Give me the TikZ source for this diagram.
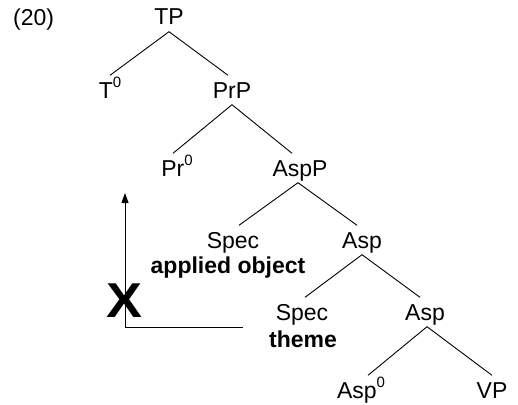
\documentclass[tikz,border=0pt]{standalone}
\usepackage{fontspec}
\setmainfont{Liberation Sans}
\usetikzlibrary{arrows.meta}
\newcommand{\zsup}[1]{\raisebox{0.45em}{\fontsize{15}{15}\selectfont #1}}
\begin{document}
\begin{tikzpicture}[x=1pt,y=-1pt,
  lab/.style={anchor=base,inner xsep=0pt,inner ysep=6.5pt,text height=16pt,text depth=0pt,font=\fontsize{23}{26}\selectfont},
  plain/.style={anchor=base,inner sep=0pt,font=\fontsize{23}{26}\selectfont},
  bold/.style={anchor=base,inner sep=0pt,font=\fontsize{23}{26}\selectfont\bfseries},
  branch/.style={line width=0.9pt},
  move/.style={line width=0.9pt}]
\useasboundingbox (0,0) rectangle (518,404);
\node[plain,anchor=base west] (num) at (13,26) {(20)};
\node[lab] (tp) at (169,25) {TP};
\node[lab] (t0) at (110,98) {T\zsup{0}};
\node[lab] (prp) at (232,98) {PrP};
\node[lab] (pr0) at (177,176) {Pr\zsup{0}};
\node[lab] (aspp) at (300,176) {AspP};
\node[lab] (spec1) at (233,248) {Spec};
\node[bold] (applied) at (228,273) {applied object};
\node[lab] (asp1) at (362,248) {Asp};
\node[lab] (spec2) at (302,320) {Spec};
\node[bold] (theme) at (303,347) {theme};
\node[lab] (asp2) at (425,320) {Asp};
\node[lab] (asp0) at (361,398) {Asp\zsup{0}};
\node[lab] (vp) at (492,398) {VP};
\draw[branch] (t0.north) -- (tp.south) -- ([xshift=-4pt]prp.north);
\draw[branch] ([xshift=-4pt]pr0.north) -- (prp.south) -- ([xshift=-8pt]aspp.north);
\draw[branch] ([xshift=6pt]spec1.north) -- ([xshift=-2pt]aspp.south) -- ([xshift=-5pt]asp1.north);
\draw[branch] ([xshift=3pt]spec2.north) -- (asp1.south) -- ([xshift=-5pt]asp2.north);
\draw[branch] ([xshift=7pt]asp0.north) -- ([xshift=2pt]asp2.south) -- (vp.north);
\coordinate (hend) at (243,327);
\coordinate (corner) at (125,327);
\coordinate (tip) at (125,193);
\draw[move,-{Triangle[length=10pt,width=7pt]}] (hend) -- (corner) -- (tip);
\node[inner sep=0pt,xscale=1.1,font=\fontsize{49}{49}\selectfont\bfseries] (cross) at (124,301) {X};
\end{tikzpicture}
\end{document}
